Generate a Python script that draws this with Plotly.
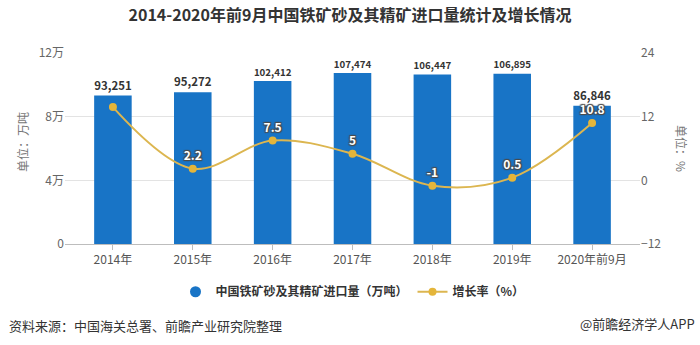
import plotly.graph_objects as go

categories = ["2014年", "2015年", "2016年", "2017年", "2018年", "2019年", "2020年前9月"]
import_volume = [93251, 95272, 102412, 107474, 106447, 106895, 86846]
growth_rate = [13.8, 2.2, 7.5, 5, -1, 0.5, 10.8]
growth_labels = ["", "2.2", "7.5", "5", "-1", "0.5", "10.8"]
left_ticks = [0, 40000, 80000, 120000]
left_tick_text = ["0", "4万", "8万", "12万"]
right_ticks = [-12, 0, 12, 24]

FONT = "Noto Sans CJK SC, Noto Sans, sans-serif"
BAR_COLOR = "#1874c6"
LINE_COLOR = "#dcb650"
MARKER_COLOR = "#e4b53a"

fig = go.Figure()

fig.add_trace(go.Bar(
    x=categories, y=import_volume, width=0.47,
    marker=dict(color=BAR_COLOR, line=dict(width=0)),
    text=import_volume, texttemplate="%{y:,}", textposition="outside",
    textfont=dict(family=FONT, size=12, color="#333333", weight="bold"),
    cliponaxis=False, showlegend=False, yaxis="y",
))

fig.add_trace(go.Scatter(
    x=categories, y=growth_rate, yaxis="y2", mode="lines+markers+text",
    line=dict(color=LINE_COLOR, width=2, shape="spline", smoothing=1.0),
    marker=dict(color=MARKER_COLOR, size=8),
    text=growth_labels, textposition="top center",
    textfont=dict(family=FONT, size=12, color="#ffffff", weight="bold",
                  shadow="1px 1px 1px #4a4a4a, -1px -1px 1px #4a4a4a, 1px -1px 1px #4a4a4a, -1px 1px 1px #4a4a4a"),
    cliponaxis=False, showlegend=False,
))

# legend-only entries
fig.add_trace(go.Scatter(
    x=[None], y=[None], mode="markers", name="中国铁矿砂及其精矿进口量（万吨）",
    marker=dict(color=BAR_COLOR, size=11, symbol="circle"), showlegend=True,
))
fig.add_trace(go.Scatter(
    x=[None], y=[None], mode="lines+markers", name="增长率（%）", yaxis="y2",
    line=dict(color=LINE_COLOR, width=2), marker=dict(color=MARKER_COLOR, size=8),
    showlegend=True,
))

fig.update_layout(
    width=700, height=345,
    margin=dict(l=65, r=60, t=53, b=101),
    paper_bgcolor="white", plot_bgcolor="white",
    font=dict(family=FONT, size=12, color="#555555"),
    title=dict(text="<b>2014-2020年前9月中国铁矿砂及其精矿进口量统计及增长情况</b>",
               x=0.5, xanchor="center", y=0.955, yanchor="middle",
               font=dict(family=FONT, size=16, color="#333333")),
    bargap=0.5,
    xaxis=dict(
        type="category", range=[-0.6, 6.6],
        showline=True, linecolor="#bdbdbd", linewidth=1,
        ticks="outside", ticklen=5, tickcolor="#bdbdbd",
        tickfont=dict(family=FONT, size=12, color="#555555"),
        showgrid=False, zeroline=False,
    ),
    yaxis=dict(
        range=[0, 120000], tickvals=left_ticks, ticktext=left_tick_text,
        showgrid=True, gridcolor="#e3e3e3", gridwidth=1, zeroline=False,
        tickfont=dict(family=FONT, size=12, color="#666666"),
        ticks="", showline=False,
    ),
    yaxis2=dict(
        range=[-12, 24], tickvals=right_ticks, overlaying="y", side="right",
        showgrid=False, zeroline=False,
        tickfont=dict(family=FONT, size=12, color="#666666"),
        ticks="", showline=False,
    ),
    legend=dict(
        orientation="h", x=0.5, xanchor="center", y=-0.25, yanchor="middle",
        font=dict(family=FONT, size=12, color="#333333", weight="bold"),
        itemwidth=30, bgcolor="rgba(0,0,0,0)",
    ),
    annotations=[
        dict(text="单位：万吨", xref="paper", yref="paper", x=-0.075 * 575 / 575 - 0.001, y=0.53,
             xanchor="center", yanchor="middle", textangle=-90, showarrow=False,
             font=dict(family=FONT, size=12, color="#777777")),
        dict(text="单位：%", xref="paper", yref="paper", x=(682 - 65) / 575, y=(244 - 148) / 191,
             xanchor="center", yanchor="middle", textangle=90, showarrow=False,
             font=dict(family=FONT, size=12, color="#777777")),
        dict(text="资料来源：中国海关总署、前瞻产业研究院整理", xref="paper", yref="paper",
             x=(7 - 65) / 575, y=(244 - 325) / 191, xanchor="left", yanchor="middle",
             showarrow=False, font=dict(family=FONT, size=13, color="#333333")),
        dict(text="@前瞻经济学人APP", xref="paper", yref="paper",
             x=(697 - 65) / 575, y=(244 - 323) / 191, xanchor="right", yanchor="middle",
             showarrow=False, font=dict(family=FONT, size=13, color="#333333")),
    ],
)

# left axis label x position in paper coords
fig.layout.annotations[0].x = (22 - 65) / 575
fig.layout.annotations[0].y = (244 - 142) / 191

fig.write_html("out.html")
